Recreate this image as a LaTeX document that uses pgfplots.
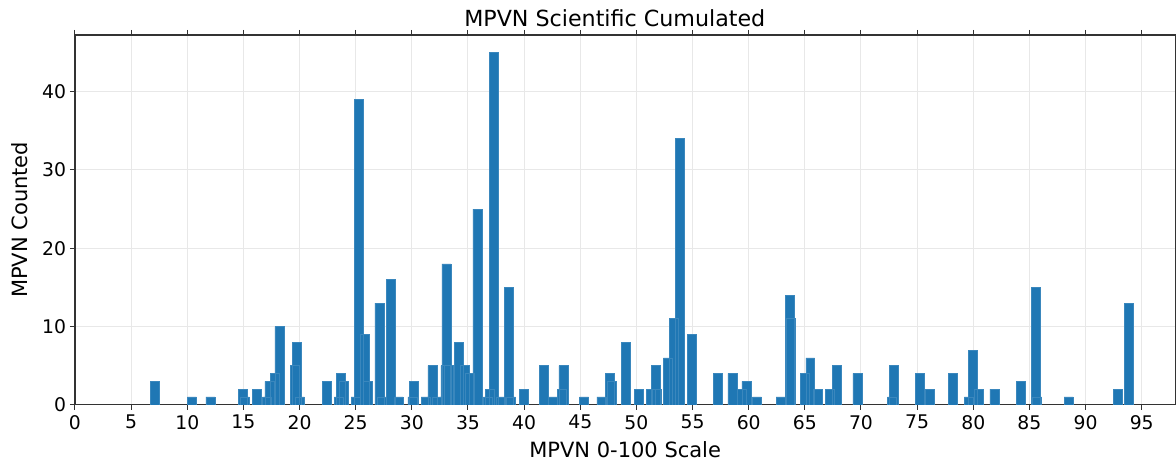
\documentclass[border=0pt]{standalone}
\usepackage{fontspec}
\setmainfont{DejaVu Sans}
\usepackage{pgfplots}
\pgfplotsset{compat=1.18}
\usetikzlibrary{calc}
\definecolor{mplblue}{HTML}{1F77B4}

% bar centre (0-100 scale) and count
\pgfplotstableread{
x      y
7.14   3
10.42  1
12.05  1
14.98  2
15.14  1
16.23  2
17.10  1
17.32  3
17.80  4
18.20  10
19.60  5
19.77  8
20.04  1
22.40  3
23.50  1
23.66  4
23.95  3
25.00  1
25.29  39
25.85  9
26.10  3
27.10  13
27.34  1
28.10  16
28.80  1
30.04  1
30.16  3
31.23  1
31.83  5
32.20  1
32.99  5
33.07  18
33.33  5
34.20  8
34.67  5
35.20  4
35.84  25
36.78  1
36.93  2
37.30  45
37.90  1
38.65  15
38.83  1
39.95  2
41.73  5
42.52  1
43.34  2
43.50  5
45.34  1
46.87  1
47.64  4
47.80  3
49.04  8
50.25  2
51.30  2
51.71  5
51.80  2
52.80  6
53.34  11
53.86  34
54.97  9
57.24  4
58.55  4
59.42  2
59.80  3
60.73  1
62.85  1
63.67  14
63.76  11
64.98  4
65.48  6
66.19  2
67.23  2
67.85  5
69.68  4
72.78  1
72.90  5
75.24  4
76.10  2
78.20  4
79.60  1
79.99  7
80.50  2
81.87  2
84.22  3
85.55  15
85.69  1
88.50  1
92.90  2
93.86  13
}\mpvn

\begin{document}
\begin{tikzpicture}
\begin{axis}[
    name=ax,
    scale only axis,
    width=550.5pt,
    height=185pt,
    xmin=0, xmax=98,
    ymin=0, ymax=47.25,
    xtick={0,5,...,95},
    ytick={0,10,20,30,40},
    tick align=outside,
    major tick length=2.5pt,
    tick style={black!80, line width=0.5pt},
    axis line style={black!80, line width=0.6pt},
    grid=major,
    grid style={gray!18, line width=0.5pt},
    /pgf/number format/assume math mode=true,
    tick label style={font=\fontsize{9.4}{11}\selectfont},
    xticklabel style={anchor=north, inner sep=0pt, yshift=-2.5pt},
    yticklabel style={anchor=east, inner sep=0pt, xshift=-1.8pt},
    xlabel={MPVN 0-100 Scale},
    xlabel style={at={(axis description cs:0.5,-0.1216)}, anchor=center,
                  font=\fontsize{10.5}{12}\selectfont},
    ylabel={MPVN Counted},
    ylabel style={at={(axis description cs:-0.05,0.5)}, anchor=center,
                  font=\fontsize{10.5}{12}\selectfont},
    ybar,
    bar width=0.8,
]
\addplot[fill=mplblue, draw=mplblue!88!white, line width=0.25pt] table[x=x, y=y] {\mpvn};
\end{axis}
% title
\node[font=\fontsize{11.1}{13}\selectfont, anchor=center, inner sep=0pt]
    at ($(ax.north)+(-5.2pt,8.6pt)$) {MPVN Scientific Cumulated};
\pgfresetboundingbox
\path[use as bounding box] ($(ax.south west)+(-37.5pt,-28.5pt)$) rectangle ($(ax.north east)+(0.3pt,17.5pt)$);
\end{tikzpicture}
\end{document}
